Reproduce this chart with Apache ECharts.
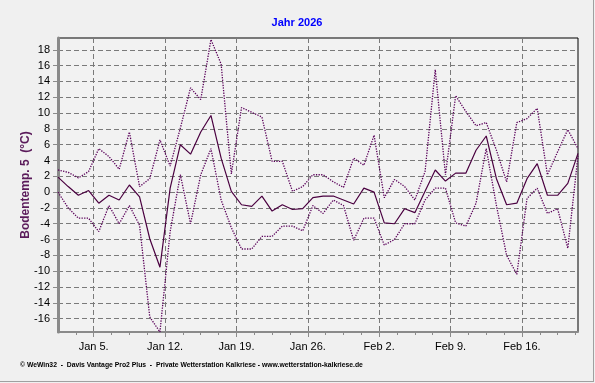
<!DOCTYPE html>
<html>
<head>
<meta charset="utf-8">
<script src="https://cdn.jsdelivr.net/npm/echarts@6/dist/echarts.min.js"></script>
<style>
html,body{margin:0;padding:0;background:#f0f0f0;}
#chart{width:595px;height:383px;}
</style>
</head>
<body>
<div id="chart"></div>
<script>
// Daily dates (one point per day, plotted at midday)
var dates = ['Jan 1','Jan 2','Jan 3','Jan 4','Jan 5','Jan 6','Jan 7','Jan 8','Jan 9','Jan 10',
  'Jan 11','Jan 12','Jan 13','Jan 14','Jan 15','Jan 16','Jan 17','Jan 18','Jan 19','Jan 20',
  'Jan 21','Jan 22','Jan 23','Jan 24','Jan 25','Jan 26','Jan 27','Jan 28','Jan 29','Jan 30',
  'Jan 31','Feb 1','Feb 2','Feb 3','Feb 4','Feb 5','Feb 6','Feb 7','Feb 8','Feb 9',
  'Feb 10','Feb 11','Feb 12','Feb 13','Feb 14','Feb 15','Feb 16','Feb 17','Feb 18','Feb 19',
  'Feb 20','Feb 21'];
var meanTemp = [1.9, 0.7, -0.4, 0.2, -1.4, -0.4, -1.0, 0.9, -0.6, -5.9, -9.5, 0.5, 6.0, 4.8, 7.6, 9.7, 4.3, 0.1, -1.6, -1.8,
  -0.5, -2.4, -1.6, -2.2, -2.1, -0.7, -0.5, -0.5, -1.0, -1.5, 0.5, 0.0, -3.9, -4.0, -2.1, -2.6, 0.1, 2.8, 1.4, 2.4,
  2.4, 5.3, 7.1, 1.7, -1.6, -1.4, 1.7, 3.6, -0.4, -0.4, 1.1, 4.9];
var maxTemp = [2.8, 2.5, 1.8, 2.6, 5.5, 4.5, 2.9, 7.6, 0.7, 1.7, 6.6, 3.3, 8.1, 13.2, 11.7, 19.3, 16.2, 2.3, 10.7, 10.1,
  9.5, 3.9, 3.9, 0.1, 0.7, 2.2, 2.2, 1.3, 0.6, 4.3, 3.4, 7.2, -0.7, 1.6, 0.7, -1.0, 2.6, 15.5, 2.2, 12.2,
  10.2, 8.4, 8.8, 5.3, 1.3, 8.8, 9.3, 10.6, 2.2, 5.1, 7.9, 5.5];
var minTemp = [0.0, -2.0, -3.3, -3.3, -5.0, -1.7, -4.0, -1.7, -4.2, -15.8, -17.7, -5.0, 2.2, -4.0, 2.2, 5.5, -1.0, -4.5, -7.2, -7.2,
  -5.6, -5.6, -4.3, -4.3, -4.9, -1.7, -2.7, -1.0, -1.7, -6.1, -3.3, -3.3, -6.7, -6.0, -4.0, -4.0, -1.0, 0.5, 0.5, -3.9,
  -4.3, -1.4, 5.5, -1.7, -8.0, -10.4, -0.8, 0.5, -2.7, -2.1, -7.1, 4.6];
var xTickLabels = ['Jan 5.','Jan 12.','Jan 19.','Jan 26.','Feb 2.','Feb 9.','Feb 16.'];
var yTickValues = [-16,-14,-12,-10,-8,-6,-4,-2,0,2,4,6,8,10,12,14,16,18];
var titleText = 'Jahr 2026';
var yAxisTitle = 'Bodentemp. 5  (\u00B0C)';
var footerText = '\u00A9 WeWin32  -  Davis Vantage Pro2 Plus  -  Private Wetterstation Kalkriese - www.wetterstation-kalkriese.de';

// Build series pairs: x = day index
function pairs(arr){ return arr.map(function(v,i){ return [i, v]; }); }
// Week gridlines at midnight starting each labelled day (between noon points)
var weekPos = xTickLabels.map(function(l){ return dates.indexOf(l.replace('.','')) - 0.5; });
var minorPos = [];
weekPos.forEach(function(p){
  for (var j = -2; j <= 1; j++) {
    var q = p + j * 1.75;
    if (q > 0 && q < dates.length - 1 && minorPos.indexOf(q) < 0) minorPos.push(q);
  }
});
var last = weekPos[weekPos.length-1];
for (var j = 1; last + j*1.75 < dates.length - 1; j++) { if (minorPos.indexOf(last+j*1.75)<0) minorPos.push(last + j*1.75); }

var lineColor = '#5a005a';
var grayAxis = '#8a8a8a';
var font = 'Liberation Sans, Arial, sans-serif';

var chart = echarts.init(document.getElementById('chart'), null, {renderer:'canvas'});
chart.setOption({
  animation: false,
  backgroundColor: '#f0f0f0',
  grid: {left: 58, right: 17, top: 38, bottom: 51, show: true, borderColor: '#000', borderWidth: 1, backgroundColor: '#f2f2f2'},
  xAxis: [{
    type: 'value', min: 0, max: dates.length - 1,
    axisLine: {show: true, onZero: false, lineStyle: {color: grayAxis, width: 2}},
    axisTick: {show: true, customValues: weekPos, length: 5, lineStyle: {color: grayAxis}},
    axisLabel: {customValues: weekPos, margin: 9, color: '#000', fontSize: 11, fontFamily: font,
      formatter: function(v){ for (var i=0;i<weekPos.length;i++){ if (Math.abs(weekPos[i]-v)<1e-6) return xTickLabels[i]; } return ''; }},
    splitLine: {show: true, lineStyle: {color: '#7a7a7a', type: [5,3], width: 1}}
  },{
    type: 'value', min: 0, max: dates.length - 1, position: 'bottom',
    axisLine: {show: false, onZero: false},
    axisTick: {show: true, customValues: minorPos, length: 3, lineStyle: {color: grayAxis}},
    axisLabel: {show: false},
    splitLine: {show: false}
  }],
  yAxis: {
    type: 'value', min: -17.7, max: 19.5,
    axisLine: {show: true, onZero: false, lineStyle: {color: grayAxis, width: 3}},
    axisTick: {show: true, customValues: yTickValues, length: 5, lineStyle: {color: grayAxis}},
    axisLabel: {customValues: yTickValues, margin: 8, color: '#000', fontSize: 11, fontFamily: font},
    splitLine: {show: true, lineStyle: {color: '#7a7a7a', type: [5,3], width: 1}}
  },
  series: [
    {type: 'line', name: 'max', data: pairs(maxTemp), symbol: 'none', lineStyle: {color: lineColor, width: 1.3, type: [1.3,1.3]}, z: 3},
    {type: 'line', name: 'min', data: pairs(minTemp), symbol: 'none', lineStyle: {color: lineColor, width: 1.3, type: [1.3,1.3]}, z: 3},
    {type: 'line', name: 'mean', data: pairs(meanTemp), symbol: 'none', lineStyle: {color: '#4a0040', width: 1.2}, z: 4}
  ],
  graphic: [
    {type: 'text', x: 297, y: 23, style: {text: titleText, fill: '#0000ff', font: 'bold 11px ' + font, textAlign: 'center', textVerticalAlign: 'middle'}},
    {type: 'text', x: 26, y: 185, rotation: Math.PI / 2, style: {text: yAxisTitle, fill: '#5a1a5a', font: 'bold 12px ' + font, textAlign: 'center', textVerticalAlign: 'middle'}},
    {type: 'text', x: 20, y: 365, style: {text: footerText, fill: '#000', font: 'bold 6.8px ' + font, textAlign: 'left', textVerticalAlign: 'middle'}},
    {type: 'line', shape: {x1: 593.5, y1: 0, x2: 593.5, y2: 382}, style: {stroke: '#a0a0a0', lineWidth: 1}},
    {type: 'line', shape: {x1: 0, y1: 381.5, x2: 594, y2: 381.5}, style: {stroke: '#a0a0a0', lineWidth: 1}}
  ]
});
</script>
</body>
</html>
